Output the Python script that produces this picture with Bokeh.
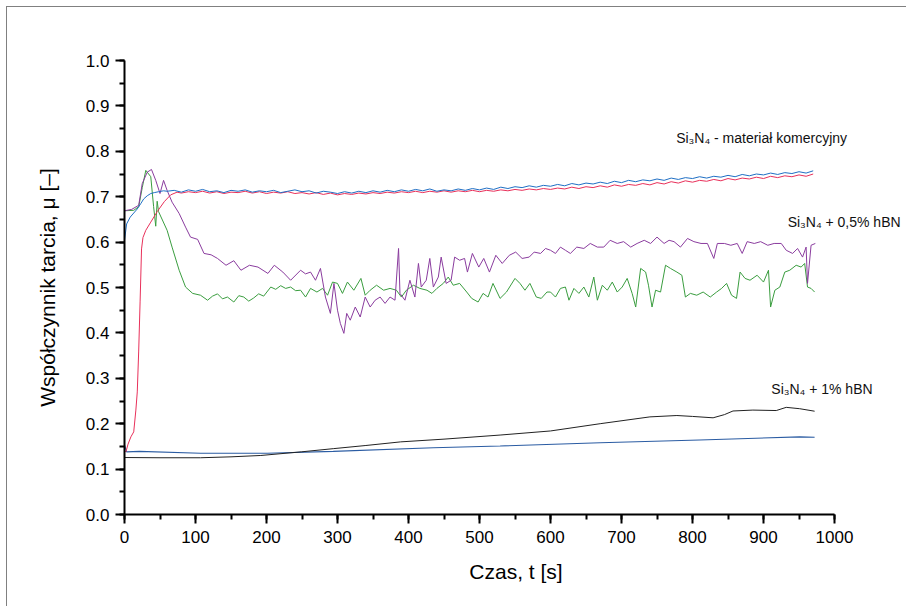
from bokeh.plotting import figure
from bokeh.models import Range1d, Label, NumeralTickFormatter, SingleIntervalTicker
from bokeh.embed import file_html
from bokeh.resources import INLINE

FONT = "Liberation Sans"

# Si3N4 - commercial (blue)
blue_t = [0, 3, 8, 13, 18, 23, 27, 32, 37, 42, 48, 55] + list(range(60, 971, 10))
blue_v = [0.604, 0.640, 0.655, 0.664, 0.673, 0.685, 0.695, 0.702, 0.707, 0.709, 0.711, 0.713,
          0.712, 0.714, 0.710, 0.715, 0.712, 0.716, 0.711, 0.713, 0.709, 0.714, 0.712, 0.715,
          0.710, 0.713, 0.711, 0.714, 0.709, 0.712, 0.715, 0.711, 0.713, 0.708, 0.712, 0.710,
          0.707, 0.711, 0.708, 0.712, 0.709, 0.713, 0.710, 0.714, 0.711, 0.715, 0.712, 0.716,
          0.713, 0.717, 0.712, 0.715, 0.713, 0.717, 0.714, 0.718, 0.715, 0.719, 0.716, 0.721,
          0.718, 0.722, 0.720, 0.724, 0.721, 0.725, 0.723, 0.727, 0.724, 0.729, 0.726, 0.730,
          0.728, 0.732, 0.729, 0.734, 0.731, 0.736, 0.733, 0.737, 0.735, 0.739, 0.736, 0.741,
          0.738, 0.742, 0.740, 0.744, 0.741, 0.745, 0.743, 0.747, 0.744, 0.749, 0.746, 0.750,
          0.748, 0.752, 0.749, 0.753, 0.751, 0.755, 0.752, 0.757]

# second commercial run (red)
red_t = [0, 2, 5, 9, 13, 16, 18, 20, 22, 24, 26, 30, 37, 46, 56, 65, 74] + list(range(80, 971, 10))
red_v = [0.140, 0.138, 0.155, 0.171, 0.182, 0.230, 0.270, 0.360, 0.470, 0.585, 0.610, 0.626,
         0.644, 0.667, 0.689, 0.704, 0.710,
         0.708, 0.711, 0.709, 0.712, 0.708, 0.711, 0.707, 0.710, 0.709, 0.712, 0.708, 0.711,
         0.707, 0.710, 0.708, 0.711, 0.707, 0.709, 0.706, 0.709, 0.705, 0.708, 0.704, 0.707,
         0.705, 0.708, 0.706, 0.709, 0.707, 0.710, 0.708, 0.711, 0.709, 0.712, 0.709, 0.712,
         0.710, 0.713, 0.710, 0.713, 0.711, 0.714, 0.711, 0.714, 0.712, 0.715, 0.713, 0.716,
         0.714, 0.717, 0.715, 0.718, 0.716, 0.719, 0.717, 0.721, 0.718, 0.722, 0.720, 0.724,
         0.721, 0.726, 0.723, 0.727, 0.725, 0.729, 0.726, 0.731, 0.728, 0.733, 0.730, 0.735,
         0.732, 0.736, 0.734, 0.738, 0.735, 0.740, 0.737, 0.741, 0.739, 0.743, 0.740, 0.745,
         0.742, 0.746, 0.744, 0.748, 0.745, 0.750]

# Si3N4 + 0,5% hBN (purple)
purple_t = [0, 10, 20, 25, 32, 38, 44, 50, 55, 60, 67, 77, 86, 93, 103, 112, 122, 131, 143, 154,
            164, 176, 188, 202, 211, 223, 234, 248, 255, 262, 269, 276, 283, 290, 295, 300, 304,
            309, 313, 318, 325, 332, 339, 346, 353, 360, 367, 374, 381, 386, 388, 395, 402, 409,
            414, 418, 425, 430, 435, 442, 446, 453, 460, 465, 472, 479, 483, 490, 499, 506, 514,
            523, 532, 542, 551, 560, 570, 577, 586, 593, 600, 607, 614, 621, 628, 637, 647, 656,
            666, 675, 684, 694, 703, 713, 722, 732, 741, 750, 760, 767, 774, 783, 793, 802, 812,
            821, 830, 835, 845, 854, 863, 870, 877, 887, 896, 906, 915, 925, 932, 941, 948, 955,
            960, 962, 967, 973]
purple_v = [0.669, 0.672, 0.681, 0.729, 0.754, 0.760, 0.736, 0.707, 0.736, 0.714, 0.688, 0.663,
            0.633, 0.611, 0.606, 0.575, 0.572, 0.564, 0.549, 0.559, 0.538, 0.549, 0.545, 0.531,
            0.549, 0.534, 0.516, 0.538, 0.530, 0.534, 0.516, 0.542, 0.479, 0.443, 0.509, 0.450,
            0.421, 0.399, 0.443, 0.428, 0.457, 0.435, 0.479, 0.457, 0.472, 0.479, 0.465, 0.479,
            0.472, 0.586, 0.487, 0.472, 0.516, 0.479, 0.553, 0.501, 0.516, 0.564, 0.501, 0.523,
            0.567, 0.509, 0.516, 0.567, 0.560, 0.564, 0.534, 0.575, 0.545, 0.564, 0.534, 0.571,
            0.553, 0.571, 0.578, 0.564, 0.567, 0.578, 0.575, 0.586, 0.582, 0.575, 0.589, 0.582,
            0.575, 0.589, 0.586, 0.597, 0.589, 0.589, 0.604, 0.597, 0.601, 0.589, 0.597, 0.604,
            0.597, 0.611, 0.597, 0.604, 0.601, 0.589, 0.608, 0.601, 0.597, 0.597, 0.564, 0.597,
            0.597, 0.593, 0.597, 0.575, 0.601, 0.597, 0.601, 0.593, 0.597, 0.597, 0.582, 0.575,
            0.586, 0.567, 0.589, 0.509, 0.593, 0.597]

# second 0,5% hBN run (green)
green_t = [0, 13, 20, 25, 30, 37, 41, 44, 46, 48, 60, 67, 77, 86, 96, 107, 117, 124, 131, 138,
           145, 154, 161, 168, 175, 182, 189, 196, 206, 213, 220, 227, 234, 241, 248, 255, 262,
           271, 279, 286, 293, 300, 307, 314, 323, 333, 339, 346, 355, 365, 374, 383, 390, 397,
           407, 416, 426, 433, 440, 449, 456, 463, 472, 482, 489, 498, 505, 512, 519, 529, 538,
           550, 557, 564, 571, 580, 587, 595, 600, 607, 614, 621, 626, 633, 640, 647, 654, 661,
           666, 673, 680, 687, 694, 701, 708, 715, 720, 727, 734, 738, 743, 748, 755, 762, 769,
           778, 785, 790, 797, 806, 815, 825, 834, 841, 848, 855, 862, 867, 874, 881, 891, 900,
           907, 910, 916, 923, 930, 937, 946, 953, 958, 962, 967, 972]
green_v = [0.669, 0.670, 0.678, 0.720, 0.758, 0.744, 0.678, 0.635, 0.690, 0.667, 0.626, 0.589,
           0.538, 0.501, 0.487, 0.483, 0.472, 0.481, 0.486, 0.475, 0.479, 0.468, 0.482, 0.479,
           0.470, 0.477, 0.486, 0.481, 0.501, 0.496, 0.504, 0.498, 0.501, 0.493, 0.494, 0.479,
           0.498, 0.490, 0.498, 0.483, 0.512, 0.509, 0.487, 0.512, 0.494, 0.520, 0.483, 0.494,
           0.505, 0.494, 0.498, 0.494, 0.479, 0.494, 0.505, 0.498, 0.494, 0.487, 0.498, 0.509,
           0.523, 0.505, 0.509, 0.490, 0.476, 0.468, 0.487, 0.479, 0.509, 0.476, 0.490, 0.520,
           0.509, 0.494, 0.509, 0.479, 0.476, 0.490, 0.490, 0.479, 0.498, 0.501, 0.472, 0.498,
           0.487, 0.501, 0.479, 0.523, 0.472, 0.505, 0.494, 0.512, 0.490, 0.501, 0.520, 0.487,
           0.457, 0.542, 0.534, 0.505, 0.457, 0.494, 0.490, 0.549, 0.542, 0.534, 0.527, 0.479,
           0.487, 0.483, 0.490, 0.479, 0.490, 0.498, 0.509, 0.483, 0.476, 0.534, 0.520, 0.516,
           0.527, 0.512, 0.538, 0.457, 0.494, 0.501, 0.534, 0.538, 0.549, 0.545, 0.553, 0.501,
           0.498, 0.490]

# Si3N4 + 1% hBN (black)
black_t = [0, 50, 107, 150, 192, 249, 294, 340, 389, 450, 529, 600, 670, 740, 778, 800, 829,
           845, 857, 885, 918, 932, 951, 972]
black_v = [0.1255, 0.125, 0.125, 0.127, 0.130, 0.138, 0.145, 0.152, 0.160, 0.166, 0.175, 0.184,
           0.200, 0.215, 0.218, 0.216, 0.213, 0.220, 0.228, 0.230, 0.229, 0.236, 0.233, 0.2275]

# second 1% hBN run (navy)
navy_t = [0, 3, 21, 107, 201, 294, 435, 529, 670, 810, 951, 972]
navy_v = [0.153, 0.138, 0.139, 0.135, 0.135, 0.139, 0.147, 0.151, 0.158, 0.164, 0.171, 0.170]

x_axis_span = (0, 1000)
y_axis_span = (0, 1.0)

labels = [
    ("Si\u2083N\u2084 - materiał komercyjny", 777, 0.829),
    ("Si\u2083N\u2084 + 0,5% hBN", 934, 0.644),
    ("Si\u2083N\u2084 + 1% hBN", 911, 0.276),
]

W, H = 900, 600
BL, BR, BT, BB = 117, 0, 53, 93
frame_w = W - BL - BR
x_end = x_axis_span[1] * frame_w / 710.0

p = figure(width=W, height=H, output_backend="svg", toolbar_location=None,
           x_range=Range1d(0, x_end), y_range=Range1d(*y_axis_span),
           min_border_left=BL, min_border_right=BR, min_border_top=BT, min_border_bottom=BB)
p.styles = {"border-top": "1px solid #808080", "border-left": "1px solid #808080",
            "margin-left": "6px", "margin-top": "6px"}
p.outline_line_color = None
p.grid.visible = False
p.background_fill_color = "white"
p.border_fill_color = "white"

p.line(navy_t, navy_v, line_color="#2b5ca3", line_width=1.1)
p.line(black_t, black_v, line_color="#222222", line_width=1.0)
p.line(green_t, green_v, line_color="#3a9d3f", line_width=1.0)
p.line(purple_t, purple_v, line_color="#8a3c9e", line_width=1.0)
p.line(red_t, red_v, line_color="#e8305a", line_width=1.0)
p.line(blue_t, blue_v, line_color="#1f6fc4", line_width=1.0)

for txt, tx, ty in labels:
    p.add_layout(Label(x=tx, y=ty, text=txt, text_font=FONT, text_font_size="14px",
                       text_color="#111111", text_baseline="middle", text_align="left"))

for ax in (p.xaxis[0], p.yaxis[0]):
    ax.axis_line_width = 2
    ax.axis_line_color = "black"
    ax.major_tick_line_width = 2
    ax.minor_tick_line_width = 2
    ax.major_tick_line_color = "black"
    ax.minor_tick_line_color = "black"
    ax.major_tick_in = 0
    ax.major_tick_out = 9
    ax.minor_tick_in = 0
    ax.minor_tick_out = 5
    ax.major_label_text_font = FONT
    ax.major_label_text_font_size = "17px"
    ax.major_label_text_color = "black"
    ax.axis_label_text_font = FONT
    ax.axis_label_text_font_size = "21px"
    ax.axis_label_text_font_style = "normal"
    ax.axis_label_text_color = "black"

p.xaxis[0].bounds = x_axis_span
p.yaxis[0].bounds = y_axis_span
p.xaxis[0].ticker = SingleIntervalTicker(interval=100, num_minor_ticks=2)
p.yaxis[0].ticker = SingleIntervalTicker(interval=0.1, num_minor_ticks=2)
p.yaxis[0].formatter = NumeralTickFormatter(format="0.0")
p.xaxis[0].axis_label = "Czas, t [s]"
p.yaxis[0].axis_label = "Współczynnik tarcia, μ [–]"
p.xaxis[0].major_label_standoff = 7
p.yaxis[0].major_label_standoff = 6
p.xaxis[0].axis_label_standoff = 14
p.yaxis[0].axis_label_standoff = 24

open("out.html", "w").write(file_html(p, INLINE))
